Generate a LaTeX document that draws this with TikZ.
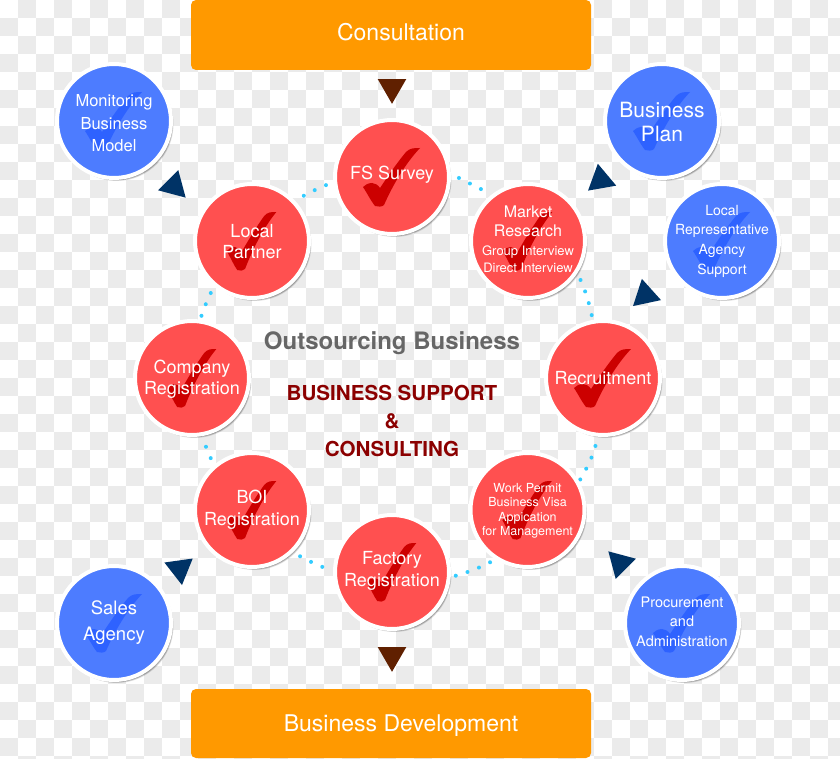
\documentclass[tikz,border=0pt]{standalone}
\usepackage{fontspec}
\setmainfont{TeX Gyre Heros}
\usetikzlibrary{shapes.geometric,shadows,positioning,backgrounds}
\definecolor{ballred}{RGB}{255,80,80}
\definecolor{tickred}{RGB}{204,0,0}
\definecolor{ballblue}{RGB}{77,124,255}
\definecolor{tickblue}{RGB}{46,98,255}
\definecolor{barorange}{RGB}{255,153,0}
\definecolor{tribrown}{RGB}{96,32,0}
\definecolor{triblue}{RGB}{0,51,102}
\definecolor{dotcyan}{RGB}{51,204,255}
\definecolor{checkgrey}{RGB}{235,235,235}
\definecolor{titlegrey}{RGB}{102,102,102}
\definecolor{titlered}{RGB}{139,0,0}
% text block of a ball, takes no room and sits #1 pt above the centre
\newcommand{\balltext}[2]{\makebox[0pt]{\raisebox{\dimexpr#1pt-5.4pt\relax}[0pt][0pt]{\begin{tabular}{@{}c@{}}#2\end{tabular}}}}
\begin{document}
\begin{tikzpicture}[
    x=1pt, y=-1pt,
    txtsize/.style 2 args={font=\fontsize{#1}{#2}\selectfont},
    ball/.style={circle, draw=white, line width=4pt, minimum size=114pt, inner sep=0pt,
        text=white,
        drop shadow={shadow xshift=0pt, shadow yshift=0pt, shadow scale=1.015, fill=black, opacity=0.12},
        drop shadow={shadow xshift=2.5pt, shadow yshift=-3pt, fill=black, opacity=0.12},
        drop shadow={shadow xshift=2pt, shadow yshift=-2.4pt, fill=black, opacity=0.2},
        drop shadow={shadow xshift=1.4pt, shadow yshift=-1.7pt, fill=black, opacity=0.3}},
    % wide tick, slimmer one for most of the red balls
    widetick/.style={path picture={
        \fill[#1, x=1pt, y=-1pt]
            (28,-29) .. controls (22,-29) and (18,-29) .. (14,-25)
            .. controls (4,-13) and (-6,2) .. (-12,11)
            .. controls (-14,8) and (-17,6) .. (-20,6)
            .. controls (-24,6) and (-27,8) .. (-29,10)
            .. controls (-25,16) and (-21,24) .. (-17,29)
            .. controls (-14,30) and (-10,30) .. (-8,28)
            .. controls (0,10) and (12,-12) .. cycle;}},
    slimtick/.style={path picture={
        \fill[#1, x=0.87pt, y=-1pt, xshift=3.5pt]
            (28,-29) .. controls (22,-29) and (18,-29) .. (14,-25)
            .. controls (4,-13) and (-6,2) .. (-12,11)
            .. controls (-14,8) and (-17,6) .. (-20,6)
            .. controls (-24,6) and (-27,8) .. (-29,10)
            .. controls (-25,16) and (-21,24) .. (-17,29)
            .. controls (-14,30) and (-10,30) .. (-8,28)
            .. controls (0,10) and (12,-12) .. cycle;}},
    redball/.style={ball, fill=ballred, slimtick=tickred, txtsize={18}{21.7}},
    redwide/.style={ball, fill=ballred, widetick=tickred, txtsize={18}{21.7}},
    blueball/.style={ball, fill=ballblue, widetick=tickblue},
    bar/.style={rectangle, fill=barorange, rounded corners=5pt, text=white,
        minimum width=400pt, inner sep=0pt, text height=17pt, text depth=5pt, txtsize={23}{27}},
    tri/.style={regular polygon, regular polygon sides=3, minimum size=33pt, inner sep=0pt, fill=triblue},
    dotline/.style={dotcyan, line width=4pt, line cap=round, dash pattern=on 0pt off 12.3pt},
    redtitle/.style={text=titlered, font=\fontsize{20.6}{24}\bfseries, inner sep=0pt}
]
\useasboundingbox (0,0) rectangle (840,759);

% checkered ground
\begin{scope}[on background layer]
\fill[white] (0,0) rectangle (840,759);
\foreach \col in {0,...,46}
  \foreach \row in {0,...,42} {
    \pgfmathtruncatemacro{\cell}{\col+\row}
    \ifodd\cell
      \fill[checkgrey] (18*\col,18*\row) rectangle (18*\col+18,18*\row+18);
    \fi
  }
\end{scope}

% top and bottom bars
\node[bar, minimum height=70pt] (consult) at (391,35) {\hspace*{20pt}Consultation};
\node[bar, minimum height=69pt, text depth=1pt] (develop) at (391,723.5) {\hspace*{20pt}Business Development};

% ring of red balls
\node[redwide] (fs) at (392,177) {\balltext{3}{FS Survey}};
\node[redball, txtsize={16}{19.3}] (market) at (528,241)
    {\balltext{1}{Market\\Research\\\fontsize{13}{16.6}\selectfont Group Interview\\[-2.7pt]\fontsize{13}{16.6}\selectfont Direct Interview}};
\node[redwide] (recruit) at (603,378) {\balltext{-1}{Recruitment}};
\node[redball, txtsize={12.5}{14.5}] (permit) at (527.5,510) {\balltext{1.5}{Work Permit\\Business Visa\\Appication\\for Management}};
\node[redball] (factory) at (392,572) {\balltext{2}{Factory\\Registration}};
\node[redball] (boi) at (252,510) {\balltext{1}{BOI\\Registration}};
\node[redball] (company) at (192,378) {\balltext{-0.5}{Company\\Registration}};
\node[redball] (partner) at (252,241) {\balltext{-1.5}{Local\\Partner}};

% blue balls round the outside
\node[blueball, txtsize={16.5}{22.5}] (monitor) at (114,121) {\balltext{-2.5}{Monitoring\\Business\\Model}};
\node[blueball, txtsize={21}{24}] (plan) at (662,121) {\balltext{-3.5}{Business\\Plan}};
\node[blueball, txtsize={14}{19.6}] (agent) at (722,241) {\balltext{2}{Local\\Representative\\Agency\\Support}};
\node[blueball, txtsize={14.5}{19.6}] (procure) at (682,623) {\balltext{2}{Procurement\\and\\Administration}};
\node[blueball, txtsize={18.5}{25.6}] (sales) at (114,623) {\balltext{2}{Sales\\Agency}};

% triangles
\node[tri, fill=tribrown, rotate=180] (arrowtop) at (392,87.3) {};
\node[tri, fill=tribrown, rotate=180] (arrowbot) at (392,655.3) {};
\node[tri, rotate=-15] (arrowmon) at (174,186) {};
\node[tri, rotate=10] (arrowplan) at (600.7,180) {};
\node[tri, rotate=12] (arrowagent) at (645.3,295) {};
\node[tri, rotate=45] (arrowproc) at (620,563) {};
\node[tri, rotate=-52] (arrowsales) at (179.7,568.7) {};

% centre titles
\node[text=titlegrey, font=\fontsize{24}{28}\bfseries, inner sep=0pt] (outsource) at (392,343) {Outsourcing Business};
\node[redtitle] (support) at (392,393) {BUSINESS SUPPORT};
\node[redtitle] (amp) at (392,421.5) {\&};
\node[redtitle] (consulting) at (392,449) {CONSULTING};

% dotted links, kept under the balls
\begin{scope}[on background layer]
\draw[dotline, shorten <=9pt] (fs.3) -- (market.128);
\draw[dotline, shorten <=7.5pt] (market.-33) to[bend left=6] (recruit.100);
\draw[dotline, shorten <=9.5pt] (recruit.-95) to[bend left=8] (permit.29);
\draw[dotline, shorten <=6pt] (permit.237) to[bend left=6] (factory.-5);
\draw[dotline, shorten <=11.5pt] (factory.179) to[bend left=4] (boi.-46);
\draw[dotline, shorten <=7.5pt] (boi.130) to[bend left=4] (company.-80);
\draw[dotline, shorten <=4pt] (company.82) to[bend left=4] (partner.230);
\draw[dotline, shorten <=10pt] (partner.43) to[bend left=4] (fs.185);
\end{scope}
\end{tikzpicture}
\end{document}
